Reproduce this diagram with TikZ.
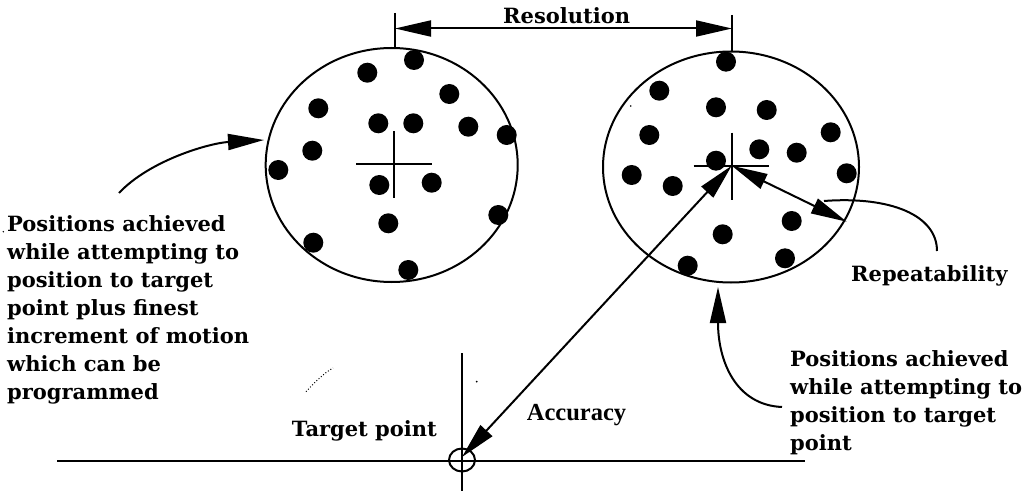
\documentclass[tikz,border=0pt]{standalone}
\usepackage{fontspec}
\setmainfont{DejaVu Serif}
\newfontfamily\tnr{Liberation Serif}
\usetikzlibrary{arrows.meta}
\begin{document}
\begin{tikzpicture}[x=1pt,y=-1pt,
  lbl/.style={font=\fontsize{21}{28}\selectfont\bfseries, inner sep=0pt, anchor=base west, align=left},
  ln/.style={line width=2pt},
  tipend/.style={-{Triangle[length=36pt,width=16pt]}},
  tipboth/.style={{Triangle[length=36pt,width=16pt]}-{Triangle[length=36pt,width=16pt]}},
  speck/.style={fill=black}]
\useasboundingbox (0,0) rectangle (1026,492);

% circles
\coordinate (CL) at (391.7,165);
\coordinate (CR) at (731,167);
\draw[ln] (CL) ellipse [x radius=126pt, y radius=117pt];
\draw[ln] (CR) ellipse [x radius=128pt, y radius=115.5pt];

% dots
\foreach \x/\y in {414/60, 367.3/72.7, 449.3/94, 318.3/108.3, 378.3/123.3, 413.3/123.3, 468.3/126.7, 506.7/135, 312.3/150.7, 278.3/170, 379.3/185, 431.7/182.7, 388.3/223.3, 498.3/215, 313.3/242.7, 408.3/270}
  \fill (\x,\y) circle[radius=10pt];
\foreach \x/\y in {726/61.7, 659.3/90.7, 716/107.3, 766.7/110, 649.3/135, 830.7/132.3, 759.3/149.3, 796.7/152.7, 716/160.7, 631.7/175, 672.7/186, 846.7/173.3, 791.7/221, 722.7/234.3, 687.7/265.7, 785/258.3}
  \fill (\x,\y) circle[radius=10pt];

% crosses
\coordinate (XL) at (394,164.3);
\coordinate (XR) at (731.7,165.7);
\draw[ln] ([xshift=-38pt]XL) -- ([xshift=38pt]XL);
\draw[ln] ([yshift=33pt]XL) -- ([yshift=-34pt]XL);
\draw[ln] ([xshift=-38pt]XR) -- ([xshift=37pt]XR);
\draw[ln] ([yshift=33pt]XR) -- ([yshift=-34pt]XR);

% resolution
\coordinate (TL1) at (395,13);
\coordinate (TL2) at (395,48);
\coordinate (TR1) at (732,15);
\coordinate (TR2) at (732,51.5);
\coordinate (RA) at (395,28.5);
\coordinate (RB) at (732,28.5);
\draw[ln] (TL1) -- (TL2);
\draw[ln] (TR1) -- (TR2);
\draw[ln,tipboth] (RA) -- (RB);
\node[lbl] (res) at (503,23.3) {Resolution};

% target point
\coordinate (H1) at (57,461);
\coordinate (H2) at (805,461);
\coordinate (V1) at (462,353);
\coordinate (V2) at (462,491);
\coordinate (TP) at (462,460);
\draw[ln] (H1) -- (H2);
\draw[ln] (V1) -- (V2);
\draw[ln] (TP) ellipse [x radius=13pt, y radius=11.5pt];
\node[lbl] (tpl) at (291.7,436.7) {Target point};
\node[font=\tnr\bfseries\fontsize{24.5}{28}\selectfont, inner sep=0pt, anchor=base west] (acc) at (526.7,420) {Accuracy};

% accuracy and repeatability arrows
\coordinate (AccTip) at (462,457);
\coordinate (RepTip) at (846.7,221.7);
\draw[ln,tipboth] (XR) -- (AccTip);
\draw[ln,tipboth] (XR) -- (RepTip);

% repeatability label and leader
\node[lbl] (rep) at (851,281.7) {Repeatability};
\coordinate (RepS) at (824,201);
\draw[ln] (RepS) .. controls (890,196) and (937,215) .. (937,251);

% left label (anchored at the baseline of its last line)
\node[lbl] (left) at (7,399) {Positions achieved\\while attempting to\\position to target\\point plus finest\\increment of motion\\which can be\\programmed};
\coordinate (LS) at (119,193);
\coordinate (LT) at (264,140);
\draw[ln,tipend] (LS) .. controls (150,160) and (210,143) .. (LT);

% right label (anchored at the baseline of its last line)
\node[lbl] (right) at (790,450) {Positions achieved\\while attempting to\\position to target\\point};
\coordinate (BS) at (782,407);
\coordinate (BT) at (718,287);
\draw[ln,tipend] (BS) .. controls (735,405) and (718,360) .. (BT);

% scan specks
\draw[line width=1pt, dotted] (306,391.7) .. controls (315,382) and (324,373) .. (333,368);
\fill[speck] (476.7,381.7) circle[radius=1pt];
\fill[speck] (216.7,330) circle[radius=0.8pt];
\fill[speck] (3.3,231.7) circle[radius=0.8pt];
\fill[speck] (630.7,106) circle[radius=0.8pt];
\end{tikzpicture}
\end{document}
